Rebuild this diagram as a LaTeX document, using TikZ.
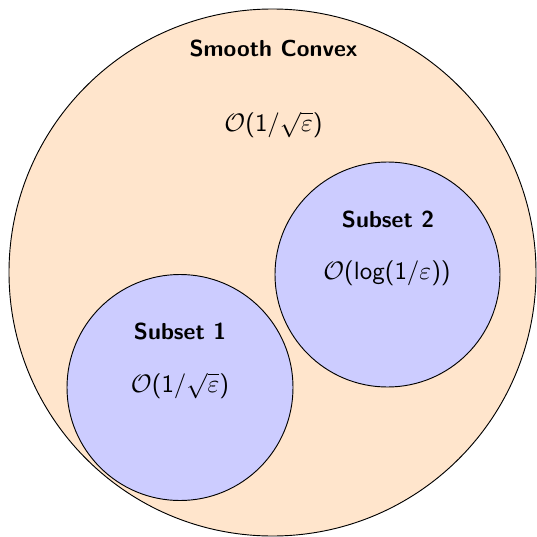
\documentclass[tikz,border=0pt]{standalone}
\tikzset{
  bigset/.style={circle,draw=black,fill=orange!20,line width=0.4pt},
  subset/.style={circle,draw=black,fill=blue!20,line width=0.4pt},
  title/.style={font=\sffamily\bfseries},
  rate/.style={font=\sffamily\fontsize{10.8}{13}\selectfont},
}
\begin{document}
\begin{tikzpicture}[x=0.01521cm,y=-0.01521cm]
\useasboundingbox (0,0) rectangle (536,537);
\node[bigset,minimum size=527*0.01521cm,inner sep=0pt] (big) at (272.5,272.5) {};
\node[subset,minimum size=226*0.01521cm,inner sep=0pt] (s1) at (180,387.5) {};
\node[subset,minimum size=225*0.01521cm,inner sep=0pt] (s2) at (387.5,274.5) {};
\node[title] (t0) at (273.5,48) {Smooth Convex};
\node[rate] (r0) at (273.5,125) {$\mathcal{O}$(1/$\sqrt{\varepsilon}$)};
\node[title] (t2) at (388,219) {Subset 2};
\node[rate] (r2) at (387,273) {$\mathcal{O}$(log(1/$\varepsilon$))};
\node[title] (t1) at (180,331) {Subset 1};
\node[rate] (r1) at (180,386) {$\mathcal{O}$(1/$\sqrt{\varepsilon}$)};
\end{tikzpicture}
\end{document}
